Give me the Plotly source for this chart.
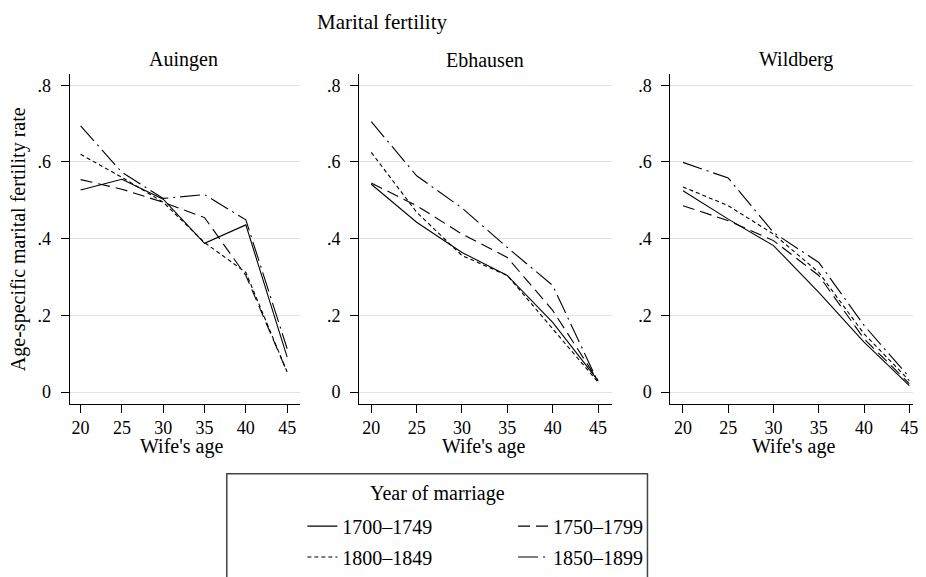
import plotly.graph_objects as go

ages = [20, 25, 30, 35, 40, 45]
periods = ["1700–1749", "1750–1799", "1800–1849", "1850–1899"]
parishes = ["Auingen", "Ebhausen", "Wildberg"]

# Age-specific marital fertility rates
auingen_1700 = [0.527, 0.555, 0.503, 0.388, 0.436, 0.091]
auingen_1750 = [0.554, 0.529, 0.495, 0.455, 0.304, 0.052]
auingen_1800 = [0.620, 0.560, 0.495, 0.390, 0.312, 0.052]
auingen_1850 = [0.694, 0.573, 0.505, 0.515, 0.449, 0.113]

ebhausen_1700 = [0.542, 0.443, 0.364, 0.304, 0.182, 0.030]
ebhausen_1750 = [0.545, 0.486, 0.412, 0.351, 0.213, 0.030]
ebhausen_1800 = [0.625, 0.469, 0.356, 0.304, 0.165, 0.026]
ebhausen_1850 = [0.705, 0.564, 0.480, 0.377, 0.278, 0.026]

wildberg_1700 = [0.525, 0.451, 0.382, 0.260, 0.130, 0.017]
wildberg_1750 = [0.486, 0.447, 0.395, 0.304, 0.139, 0.022]
wildberg_1800 = [0.535, 0.486, 0.412, 0.312, 0.152, 0.030]
wildberg_1850 = [0.599, 0.558, 0.416, 0.338, 0.174, 0.039]

data = {
    "Auingen": [auingen_1700, auingen_1750, auingen_1800, auingen_1850],
    "Ebhausen": [ebhausen_1700, ebhausen_1750, ebhausen_1800, ebhausen_1850],
    "Wildberg": [wildberg_1700, wildberg_1750, wildberg_1800, wildberg_1850],
}

ytick_vals = [0, 0.2, 0.4, 0.6, 0.8]
ytick_text = ["0", ".2", ".4", ".6", ".8"]

# page body has an 8px margin
OFF = 8
W, H = 926 - 2 * OFF, 577 - OFF
FONT = "Liberation Serif"


def px(x):
    return min(max((x - OFF) / W, 0.0), 1.0)


def py(y):
    return 1 - (y - OFF) / H


dashes = ["solid", "12px,6px", "4px,3px", "20px,5px,2px,5px"]
legends = ["legend", "legend", "legend2", "legend2"]

# screen-pixel layout of the panels: axis extent and positions of ticks 20 / 45
xdom_px = [(70, 302), (361, 615), (674, 926)]
tick_px = [(81, 288.7), (373.3, 601.3), (686.7, 914.3)]
ytop, ybot = 74, 405
ydom = [py(ybot), py(ytop)]

fig = go.Figure()
for i, p in enumerate(parishes):
    ax = "" if i == 0 else str(i + 1)
    for j, per in enumerate(periods):
        fig.add_trace(go.Scatter(
            x=ages, y=data[p][j], mode="lines", name=per,
            line=dict(color="black", width=1.1, dash=dashes[j]),
            xaxis="x" + ax, yaxis="y" + ax,
            showlegend=(i == 0), legend=legends[j],
            hoverinfo="skip",
        ))

axis_common = dict(
    showline=True, linecolor="black", linewidth=1,
    ticks="outside", ticklen=8, tickcolor="black", tickwidth=1,
    tickfont=dict(family=FONT, size=18, color="black"),
    zeroline=False,
)
layout = dict(
    width=W, height=H,
    margin=dict(l=0, r=0, t=0, b=0),
    plot_bgcolor="white", paper_bgcolor="white",
    font=dict(family=FONT, size=20, color="black"),
)
for i in range(3):
    ax = "" if i == 0 else str(i + 1)
    x0, x1 = xdom_px[i]
    x1 = min(x1, OFF + W)
    t0, t1 = tick_px[i]
    k = 25.0 / (t1 - t0)
    layout["xaxis" + ax] = dict(
        domain=[px(x0), px(x1)],
        range=[20 + (x0 - t0) * k, 20 + (x1 - t0) * k],
        tickvals=ages, showgrid=False, anchor="y" + ax,
        ticklabelstandoff=0, ticklabeloverflow="allow", **axis_common)
    layout["yaxis" + ax] = dict(
        domain=ydom, range=[-0.03, 0.83],
        tickvals=ytick_vals, ticktext=ytick_text,
        showgrid=True, gridcolor="#e3e3e3", gridwidth=1,
        anchor="x" + ax, ticklabelstandoff=6, **axis_common)

fig.update_layout(**layout)

ann = []
ann.append(dict(text="Marital fertility", x=px(385), y=py(22),
                xref="paper", yref="paper", showarrow=False,
                font=dict(size=21), xanchor="center", yanchor="middle"))
title_cx = [184.5, 488, 800]
for i, p in enumerate(parishes):
    ann.append(dict(text=p, x=px(title_cx[i]), y=py(60), xref="paper",
                    yref="paper", showarrow=False, font=dict(size=20),
                    xanchor="center", yanchor="middle"))
    ann.append(dict(text="Wife's age", x=px(title_cx[i] - 2), y=py(448),
                    xref="paper", yref="paper", showarrow=False,
                    font=dict(size=20), xanchor="center", yanchor="middle"))
ann.append(dict(text="Age-specific marital fertility rate", x=px(18),
                y=py(240), xref="paper", yref="paper", showarrow=False,
                textangle=-90, font=dict(size=20),
                xanchor="center", yanchor="middle"))
ann.append(dict(text="Year of marriage", x=px(440), y=py(495),
                xref="paper", yref="paper", showarrow=False,
                font=dict(size=20), xanchor="center", yanchor="middle"))
fig.update_layout(annotations=ann)

fig.add_shape(type="rect", xref="paper", yref="paper",
              x0=px(228), x1=px(651), y0=-0.1, y1=py(475.5),
              line=dict(color="#444444", width=1.5), fillcolor="rgba(0,0,0,0)")

leg_common = dict(orientation="h", xanchor="left", yanchor="middle",
                  bgcolor="rgba(0,0,0,0)", borderwidth=0,
                  font=dict(family=FONT, size=20, color="black"),
                  entrywidth=165.7, entrywidthmode="pixels",
                  itemclick=False, itemdoubleclick=False)
fig.update_layout(
    legend=dict(x=px(304), y=py(528), **leg_common),
    legend2=dict(x=px(304), y=py(559), **leg_common),
)

fig.write_html("out.html")
